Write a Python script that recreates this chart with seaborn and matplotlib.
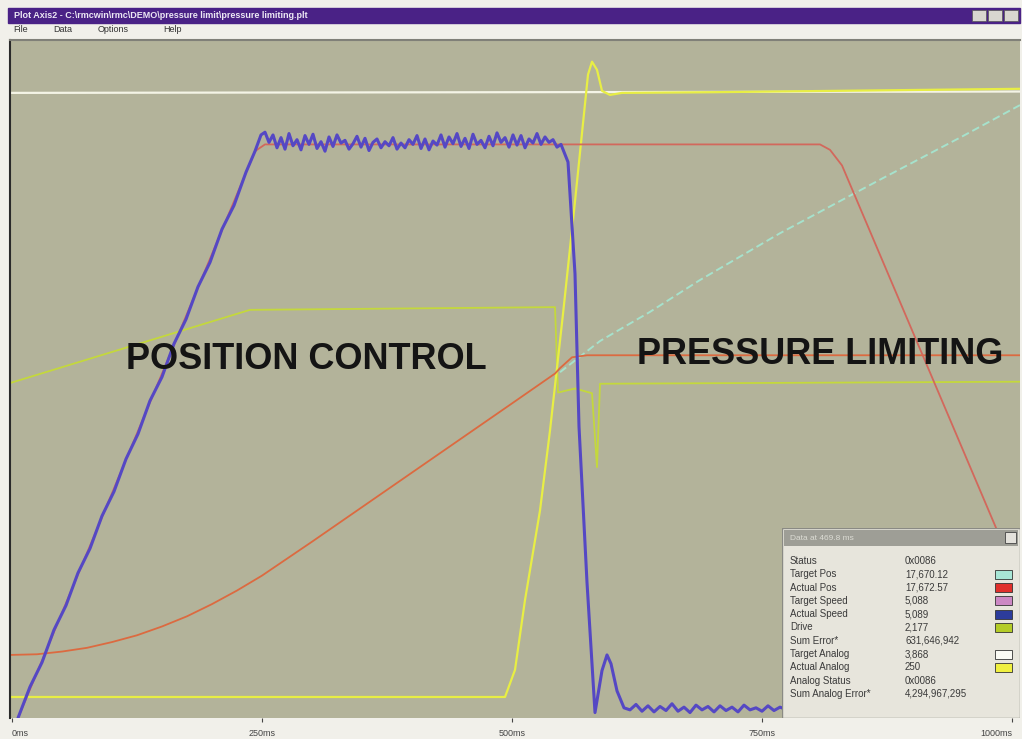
import numpy as np
import pandas as pd
import seaborn as sns
import matplotlib.pyplot as plt
from matplotlib.patches import Rectangle

# time in ms, values in % of plot full scale
ramp_t = [6, 18, 30, 42, 54, 66, 78, 90, 102, 114, 126, 138, 150, 162, 174, 186, 198, 210, 222, 234, 243, 249]
ramp_v = [0.0, 4.6, 8.2, 13.0, 16.6, 21.4, 25.0, 29.8, 33.4, 38.2, 41.9, 46.8, 50.3, 55.2, 58.8, 63.6, 67.2, 72.1, 75.6, 80.5, 83.6, 86.0]

flat_t = [253, 257, 261, 265, 269, 273, 277, 281, 285, 289,
          293, 297, 301, 305, 309, 313, 317, 321, 325, 329,
          333, 337, 341, 345, 349, 353, 357, 361, 365, 369,
          373, 377, 381, 385, 389, 393, 397, 401, 405, 409,
          413, 417, 421, 425, 429, 433, 437, 441, 445, 449,
          453, 457, 461, 465, 469, 473, 477, 481, 485, 489,
          493, 497, 501, 505, 509, 513, 517, 521, 525, 529,
          533, 537, 541, 545, 549]
flat_v = [86.4, 84.9, 86.0, 84.1, 85.6, 83.9, 86.2, 84.4, 85.3, 83.8,
          85.9, 84.6, 86.1, 84.0, 85.0, 83.6, 85.7, 84.3, 86.0, 84.8,
          85.2, 83.9, 84.7, 85.8, 84.2, 85.5, 83.7, 84.9, 85.4, 84.1,
          85.0, 84.4, 85.6, 83.9, 84.8, 84.1, 85.3, 84.6, 85.9, 84.0,
          85.4, 83.8, 85.1, 84.5, 86.0, 84.2, 85.7, 84.7, 86.2, 84.3,
          85.5, 84.0, 86.1, 84.6, 85.2, 84.1, 85.8, 84.4, 86.3, 84.9,
          85.6, 84.2, 86.0, 84.5, 85.9, 84.1, 85.4, 84.8, 86.2, 84.6,
          85.7, 84.9, 85.3, 84.2, 84.6]

drop_t = [556, 563, 567, 575, 583, 590, 595, 599, 605, 612,
          618, 624, 630, 636, 642, 648, 654, 660, 666, 672,
          678, 684, 690, 696, 702, 708, 714, 720, 726, 732,
          738, 744, 750, 756, 762, 768, 775]
drop_v = [82.0, 65.5, 43.0, 20.0, 0.8, 7.0, 9.3, 8.0, 4.0, 1.5,
          1.2, 2.0, 1.0, 1.8, 0.9, 1.7, 1.1, 2.1, 1.0, 1.6,
          0.8, 1.9, 1.2, 1.7, 0.9, 1.8, 1.1, 1.6, 0.9, 1.9,
          1.2, 1.5, 1.0, 1.8, 1.1, 1.6, 1.2]

tspeed_t = [6, 243, 253, 808, 818, 830, 983, 1008]
tspeed_v = [0.0, 83.6, 84.6, 84.6, 83.8, 81.5, 28.4, 19.6]

apos_t = [-2, 25, 50, 75, 100, 125, 150, 175, 200, 225, 250, 275, 300, 350, 400, 450, 500, 543, 548, 560, 575, 1008]
apos_v = [9.3, 9.4, 9.8, 10.35, 11.2, 12.2, 13.5, 15.0, 16.8, 18.8, 21.0, 23.5, 26.0, 31.1, 36.2, 41.3, 46.4, 50.8, 51.6, 53.2, 53.5, 53.5]

tpos_t = [548, 588, 638, 688, 768, 868, 948, 1008]
tpos_v = [51.0, 55.6, 59.9, 64.6, 71.5, 79.4, 85.6, 90.4]

drive_t = [-2, 118, 238, 543, 546, 563, 580, 585, 588, 1008]
drive_v = [49.4, 54.8, 60.2, 60.6, 48.0, 48.6, 47.9, 37.0, 49.3, 49.6]

tanalog_t = [-2, 1008]
tanalog_v = [92.2, 92.4]

aanalog_t = [-2, 493, 503, 513, 528, 538, 551, 563, 576, 580, 585, 590, 598, 610, 700, 1008]
aanalog_v = [3.1, 3.1, 7.1, 17.4, 30.6, 42.4, 59.6, 76.2, 94.9, 96.8, 95.6, 92.5, 91.9, 92.2, 92.3, 92.8]

tick_ms = [0, 250, 500, 750, 1000]
tick_labels = ["0ms", "250ms", "500ms", "750ms", "1000ms"]

legend_names = ["Status", "Target Pos", "Actual Pos", "Target Speed", "Actual Speed", "Drive",
                "Sum Error*", "Target Analog", "Actual Analog", "Analog Status", "Sum Analog Error*"]
legend_values = ["0x0086", "17,670.12", "17,672.57", "5,088", "5,089", "2,177",
                 "631,646,942", "3,868", "250", "0x0086", "4,294,967,295"]
legend_swatch = [None, "#a8e6d6", "#e0302c", "#cc88c4", "#2c3c9c", "#b4cc28",
                 None, "#fafaf4", "#f0f040", None, None]

speed_t = ramp_t + flat_t + drop_t
speed_v = ramp_v + flat_v + drop_v

sns.set_style("white")
plt.rcParams['font.family'] = ['Liberation Sans', 'DejaVu Sans']

W, H = 1022, 739
fig = plt.figure(figsize=(W / 100, H / 100), dpi=100, facecolor='#f1f0ea')


def box(x0, y0, x1, y1):
    return [x0 / W, 1 - y1 / H, (x1 - x0) / W, (y1 - y0) / H]


# window chrome
fig.patches.append(Rectangle((8 / W, 1 - 23 / H), 1012 / W, 15 / H, transform=fig.transFigure,
                             color='#4a2286', zorder=0))
fig.text(14 / W, 1 - 15.5 / H, "Plot Axis2 - C:\\rmcwin\\rmc\\DEMO\\pressure limit\\pressure limiting.plt",
         color='#ece8f4', fontsize=6.5, fontweight='bold', va='center')
for bx in [972, 988, 1004]:
    fig.patches.append(Rectangle((bx / W, 1 - 21 / H), 14 / W, 11 / H, transform=fig.transFigure,
                                 facecolor='#d8d6d0', edgecolor='#555', lw=0.5))
for name, mx in [("File", 13), ("Data", 53), ("Options", 98), ("Help", 163)]:
    fig.text(mx / W, 1 - 30 / H, name, color='#333', fontsize=6.5, va='center')

ax = fig.add_axes(box(10, 40, 1020, 718))
ax.set_facecolor('#b3b39a')

sns.lineplot(x=drive_t, y=drive_v, ax=ax, color='#c4d83c', lw=1.3, sort=False, estimator=None)
sns.lineplot(x=tanalog_t, y=tanalog_v, ax=ax, color='#f4f4e6', lw=1.6, sort=False, estimator=None)
sns.lineplot(x=aanalog_t, y=aanalog_v, ax=ax, color='#e8ee44', lw=1.6, sort=False, estimator=None)
sns.lineplot(x=tpos_t, y=tpos_v, ax=ax, color='#a6e2cc', lw=1.4, ls=(0, (4, 2)), sort=False, estimator=None)
sns.lineplot(x=apos_t, y=apos_v, ax=ax, color='#dc6a40', lw=1.3, sort=False, estimator=None)
sns.lineplot(x=tspeed_t, y=tspeed_v, ax=ax, color='#d2685c', lw=1.3, sort=False, estimator=None)
sns.lineplot(x=speed_t, y=speed_v, ax=ax, color='#5548c4', lw=2.2, sort=False, estimator=None)

ax.text(294, 52.9, "POSITION CONTROL", fontsize=26, fontweight='bold', color='#141414',
        ha='center', va='center')
ax.text(808, 53.6, "PRESSURE LIMITING", fontsize=26, fontweight='bold', color='#141414',
        ha='center', va='center')

ax.set_xlim(-2, 1008)
ax.set_ylim(0, 100)
ax.set_yticks([])
ax.set_xticks(tick_ms)
ax.set_xticklabels(tick_labels)
ax.tick_params(axis='x', labelsize=6.5, colors='#444', length=3, pad=5, direction='out', bottom=True)
labels = ax.get_xticklabels()
labels[0].set_ha('left')
labels[-1].set_ha('right')
ax.set_xlabel("")
ax.set_ylabel("")
for side in ['right', 'bottom']:
    ax.spines[side].set_visible(False)
ax.spines['left'].set_color('#2a2a2a')
ax.spines['left'].set_linewidth(1.5)
ax.spines['top'].set_color('#808078')
ax.spines['top'].set_linewidth(1.5)

# data readout window
lax = fig.add_axes(box(782, 528, 1020, 718))
lax.set_xlim(0, 238)
lax.set_ylim(190, 0)
lax.axis('off')
lax.add_patch(Rectangle((0, 0), 238, 190, facecolor='#e7e5dc', edgecolor='#8a8a84', lw=1))
lax.add_patch(Rectangle((2, 2), 234, 16, facecolor='#9e9e96', edgecolor='none'))
lax.text(8, 10, "Data at 469.8 ms", fontsize=6, color='#dcdcd4', va='center')
lax.add_patch(Rectangle((223, 4), 11, 11, facecolor='#e4e2dc', edgecolor='#444', lw=0.6))
for i, (nm, val, sw) in enumerate(zip(legend_names, legend_values, legend_swatch)):
    yy = 33 + i * 13.3
    lax.text(8, yy, nm, fontsize=7, color='#3a3a3a', va='center')
    lax.text(123, yy, val, fontsize=7, color='#3a3a3a', va='center')
    if sw is not None:
        lax.add_patch(Rectangle((213, yy - 4.5), 17, 9, facecolor=sw, edgecolor='#333', lw=0.6))

fig.savefig("out.png", dpi=100, facecolor=fig.get_facecolor())
